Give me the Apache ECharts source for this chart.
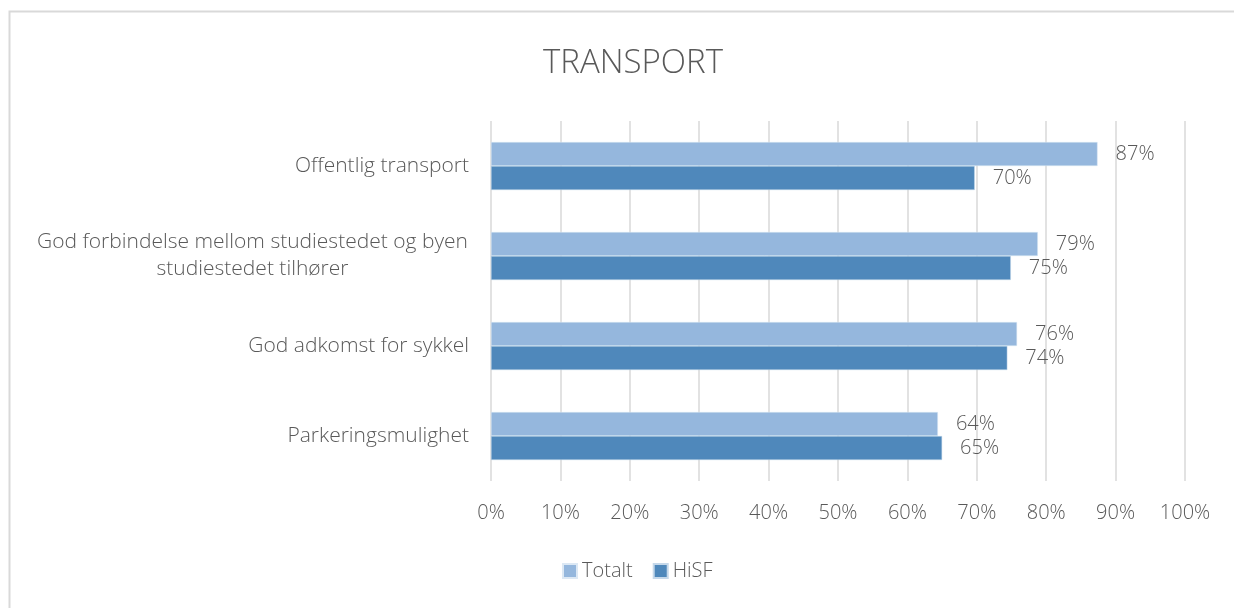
<!DOCTYPE html>
<html>
<head>
<meta charset="utf-8">
<script src="https://cdn.jsdelivr.net/npm/echarts@6/dist/echarts.min.js"></script>
<style>
html,body{margin:0;padding:0;background:#fff;}
#chart{width:1234px;height:608px;}
</style>
</head>
<body>
<div id="chart"></div>
<script>
const categories = ["Offentlig transport", "God forbindelse mellom studiestedet og byen\nstudiestedet tilhører", "God adkomst for sykkel", "Parkeringsmulighet"];
const totalt = [87.4, 78.8, 75.8, 64.4];
const hisf = [69.7, 74.9, 74.4, 65.0];
const xTicks = [0, 10, 20, 30, 40, 50, 60, 70, 80, 90, 100];

const FONT = '"Open Sans", "Noto Sans", sans-serif';
const TXT = '#595959';
const CAT_SIZE = 21;
const measureCtx = document.createElement('canvas').getContext('2d');
measureCtx.font = '300 ' + CAT_SIZE + 'px ' + FONT;

function catFormatter(v) {
  const lines = v.split('\n');
  if (lines.length === 1) return v;
  const w = Math.ceil(Math.max(...lines.map(l => measureCtx.measureText(l).width))) + 2;
  return lines.map(l => '{c|' + l + '}').join('\n').replace(/__W__/g, w);
}
function catRich() {
  let w = 0;
  categories.forEach(c => c.split('\n').forEach(l => { w = Math.max(w, measureCtx.measureText(l).width); }));
  return { c: { width: Math.ceil(w) + 2, align: 'center', fontSize: CAT_SIZE, fontFamily: FONT, fontWeight: 300, color: TXT, lineHeight: 27 } };
}

const chart = echarts.init(document.getElementById('chart'));
const labelOpt = {
  show: true, position: 'right', distance: 18,
  color: TXT, fontSize: 20, fontFamily: FONT, fontWeight: 300,
  formatter: p => Math.round(p.value) + '%'
};
chart.setOption({
  animation: false,
  title: {
    text: 'TRANSPORT', left: 538, top: 42,
    textStyle: { color: TXT, fontSize: 33, fontWeight: 300, fontFamily: FONT }
  },
  legend: {
    bottom: 22, left: 557, itemWidth: 14, itemHeight: 14, itemGap: 20,
    icon: 'rect',
    textStyle: { color: TXT, fontSize: 20, fontFamily: FONT, fontWeight: 300 },
    data: ['Totalt', 'HiSF']
  },
  graphic: [{
    type: 'polyline', silent: true,
    shape: { points: [[9.5, 700], [9.5, 11.5], [1300, 11.5]] },
    style: { stroke: '#d9d9d9', lineWidth: 2, fill: null }
  }],
  grid: { left: 491, right: 49, top: 121, bottom: 127 },
  xAxis: {
    type: 'value', min: 0, max: 100, interval: 10,
    axisLine: { show: false }, axisTick: { show: false },
    splitLine: { lineStyle: { color: '#d9d9d9', width: 1.5 } },
    axisLabel: {
      color: TXT, fontSize: 20, fontFamily: FONT, fontWeight: 300, margin: 22,
      formatter: v => xTicks.includes(v) ? v + '%' : ''
    }
  },
  yAxis: {
    type: 'category', inverse: true, data: categories,
    axisLine: { show: false }, axisTick: { show: false },
    axisLabel: {
      color: TXT, fontSize: CAT_SIZE, fontFamily: FONT, fontWeight: 300, margin: 22,
      lineHeight: 27,
      formatter: catFormatter,
      rich: catRich()
    }
  },
  series: [
    {
      name: 'Totalt', type: 'bar', data: totalt, barWidth: 24, barGap: '0%',
      itemStyle: { color: '#95b7dd', borderColor: '#dce8f4', borderWidth: 0.5 },
      label: labelOpt
    },
    {
      name: 'HiSF', type: 'bar', data: hisf, barWidth: 24,
      itemStyle: { color: '#4f88bb', borderColor: '#c5d8ea', borderWidth: 0.5 },
      label: labelOpt
    }
  ]
});
</script>
</body>
</html>
